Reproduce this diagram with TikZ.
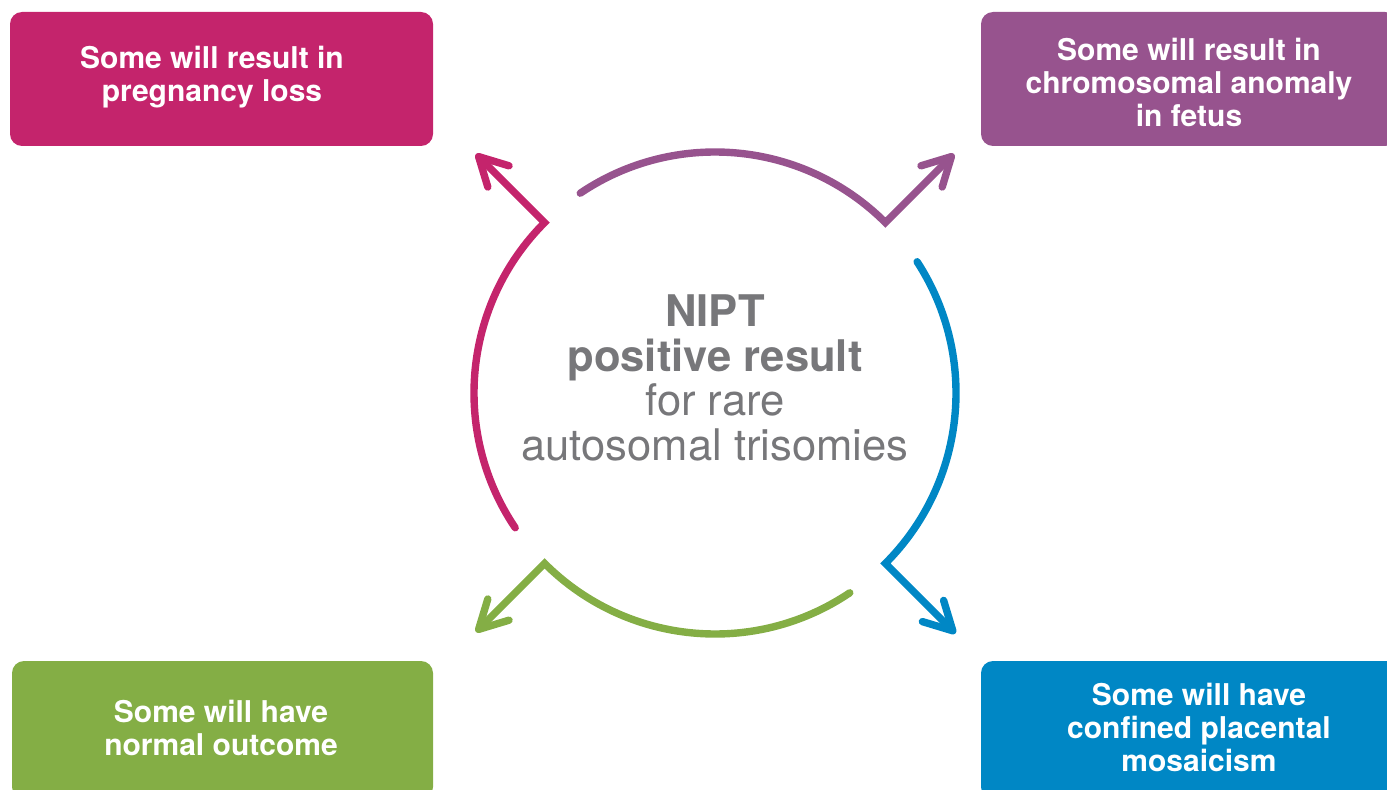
\documentclass[tikz,border=0pt]{standalone}
\usepackage{fontspec}
\setmainfont{TeX Gyre Heros}
\usetikzlibrary{arrows.meta}

\definecolor{losscol}{HTML}{C4246C}
\definecolor{anomcol}{HTML}{97538E}
\definecolor{normcol}{HTML}{84AE45}
\definecolor{cpmcol}{HTML}{0087C5}
\definecolor{niptgray}{HTML}{77777A}

\tikzset{
  outbox/.style={rounded corners=6pt, inner sep=0pt, draw=none},
  outtext/.style={text=white, align=center, font=\bfseries\fontsize{15}{16.5}\selectfont},
  loop/.style={line width=3.7pt, line cap=round,
    -{Straight Barb[round,length=14pt,width=15pt]}}
}

\begin{document}
\begin{tikzpicture}[x=0.5pt,y=0.5pt]
  \useasboundingbox (0,0) rectangle (1387,789);
  \clip (0,0) rectangle (1387,789);

  % outcome boxes
  \node[outbox, fill=losscol, minimum width=211.5pt, minimum height=67pt] (lossbox) at (221.5,710) {};
  \node[outbox, fill=anomcol, minimum width=208pt, minimum height=67pt] (anombox) at (1189,710) {};
  \node[outbox, fill=normcol, minimum width=210.5pt, minimum height=69pt] (normbox) at (222.5,59) {};
  \node[outbox, fill=cpmcol, minimum width=218pt, minimum height=69pt] (cpmbox) at (1199,59) {};

  \node[outtext] (loss) at (212,711.5) {Some will result in\\pregnancy loss};
  \node[outtext] (anom) at (1189,707) {Some will result in\\chromosomal anomaly\\in fetus};
  \node[outtext] (norm) at (221,61.5) {Some will have\\normal outcome};
  \node[outtext] (cpm) at (1199,61.5) {Some will have\\confined placental\\mosaicism};

  % centre
  \coordinate (ctr) at (715,396);
  \node[text=niptgray, align=center, font=\fontsize{21.8}{22.4}\selectfont] (nipt) at (715,411)
    {\textbf{NIPT}\\\textbf{positive result}\\for rare\\autosomal trisomies};

  % arcs with arrows
  \draw[loop, losscol] (ctr) ++(214:241) arc[start angle=214, end angle=135, radius=241] -- ++(135:97);
  \draw[loop, anomcol] (ctr) ++(124:241) arc[start angle=124, end angle=45, radius=241] -- ++(45:97);
  \draw[loop, cpmcol] (ctr) ++(33:241) arc[start angle=33, end angle=-45, radius=241] -- ++(-45:99);
  \draw[loop, normcol] (ctr) ++(-56:241) arc[start angle=-56, end angle=-135, radius=241] -- ++(-135:97);
\end{tikzpicture}
\end{document}
